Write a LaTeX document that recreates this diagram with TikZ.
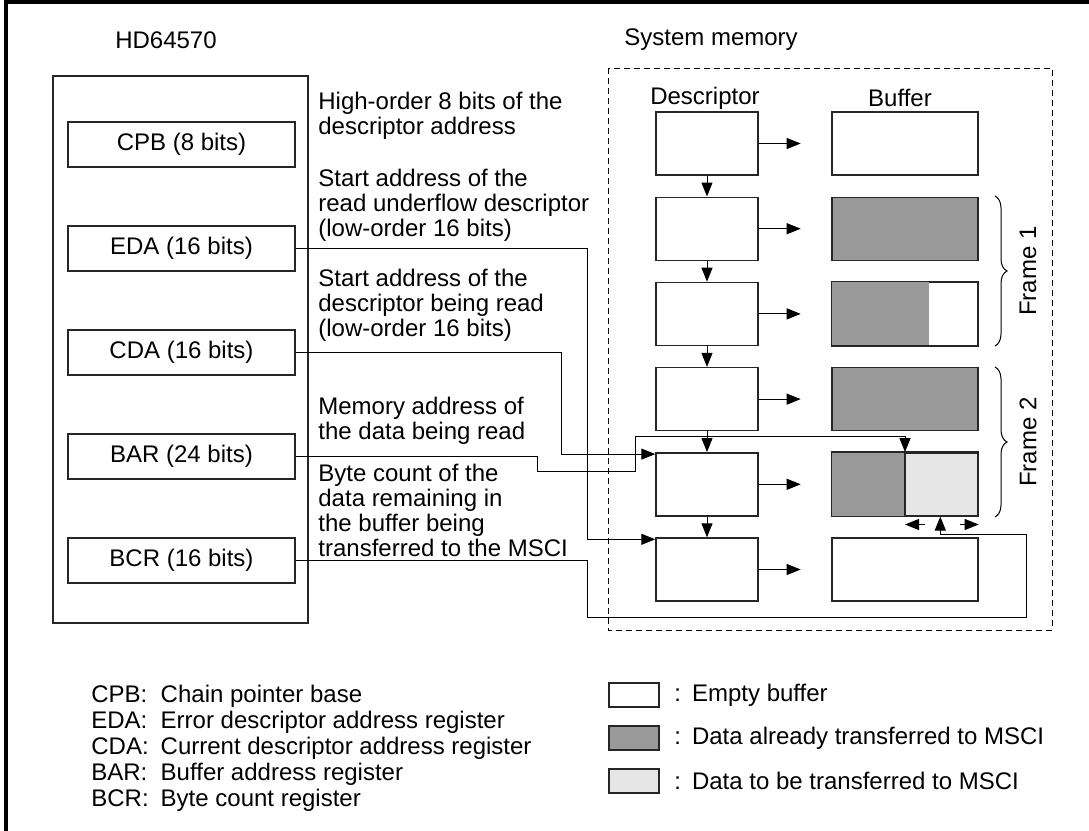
\documentclass[tikz,border=0pt]{standalone}
\usepackage{fontspec}
\setmainfont{Liberation Sans}
\usetikzlibrary{arrows.meta, calc, decorations.pathreplacing}
\definecolor{dark}{HTML}{999999}
\definecolor{light}{HTML}{E6E6E6}

\begin{document}
\begin{tikzpicture}[x=0.5pt, y=-0.5pt, font=\fontsize{12pt}{12.5pt}\selectfont,
    box/.style={draw=black!85, line width=0.7pt, inner sep=0pt},
    reg/.style={box, minimum width=113.5pt, minimum height=22.5pt},
    desc/.style={box, minimum width=51pt, minimum height=31.5pt},
    buf/.style={box, minimum width=73pt, minimum height=31.5pt},
    wire/.style={line width=0.5pt},
    arr/.style={-{Triangle[length=7pt,width=5.5pt]}},
    txt/.style={inner sep=0pt, anchor=west, align=left}]
    \useasboundingbox (0,0) rectangle (1089,831);
    \draw[line width=2pt] (6,831) -- (6,2) -- (1089,2);

    % HD64570 side
    \node (hdt) at (166,40) {HD64570};
    \draw[box] (53,76) rectangle (308,623);
    \node[reg] (cpb) at (181.5,144.5) {CPB (8 bits)};
    \node[reg] (eda) at (181.5,248.5) {EDA (16 bits)};
    \node[reg] (cda) at (181.5,352.5) {CDA (16 bits)};
    \node[reg] (bar) at (181.5,456.5) {BAR (24 bits)};
    \node[reg] (bcr) at (181.5,560.5) {BCR (16 bits)};

    \node[txt] (t1) at (318,115.5) {High-order 8 bits of the\\descriptor address};
    \node[txt] (t2) at (318,205) {Start address of the\\read underflow descriptor\\(low-order 16 bits)};
    \node[txt] (t3) at (318,305) {Start address of the\\descriptor being read\\(low-order 16 bits)};
    \node[txt] (t4) at (318,420.5) {Memory address of\\the data being read};
    \node[txt] (t5) at (318,510.5) {Byte count of the\\data remaining in\\the buffer being\\transferred to the MSCI};

    % System memory side
    \node[txt] (smt) at (624,40) {System memory};
    \draw[wire, dash pattern=on 3pt off 2pt] (608,68) rectangle (1052,630);
    \node (dt) at (705,98) {Descriptor};
    \node (bt) at (900,98) {Buffer};
    \foreach \i/\f in {1/white,2/dark,3/white,4/dark,5/light,6/white} {
        \node[desc] (desc\i) at (707,{143.5+85.2*(\i-1)}) {};
        \node[buf, fill=\f] (buf\i) at (905,{143.5+85.2*(\i-1)}) {};
        \coordinate (pt\i) at ($(desc\i.east)+(42,0)$);
        \draw[wire,arr] (desc\i) -- (pt\i);
    }
    \foreach \i/\j in {1/2,2/3,3/4,4/5,5/6}
        \draw[wire,arr] (desc\i) -- (desc\j);

    % partly filled buffers
    \fill[dark] (buf3.north west) rectangle ($(buf3.south west)+(98,0)$);
    \draw[box] (buf3.north west) rectangle (buf3.south east);
    \fill[dark] (buf5.north west) rectangle (buf5.south);
    \draw[box] (buf5.north west) rectangle (buf5.south east);
    \draw[box] (buf5.north) -- (buf5.south);

    % frames
    \draw[wire, decorate, decoration={brace, amplitude=6pt}] (995,196) -- (995,346);
    \draw[wire, decorate, decoration={brace, amplitude=6pt}] (995,367) -- (995,517);
    \node[rotate=90] (f1) at (1028,271) {Frame 1};
    \node[rotate=90] (f2) at (1028,442) {Frame 2};

    % registers to memory
    \draw[wire,arr] (eda.east) -- ++(292,0) |- ([yshift=-1pt]desc6.north west);
    \draw[wire,arr] (cda.east) -- ++(266,0) |- ([yshift=-1pt]desc5.north west);
    \draw[wire,arr] (bar.east) -- ++(242,0) -- ++(0,15) -- ++(98,0) |- ([yshift=8pt]buf5.north) -- (buf5.north);
    \coordinate (cnt) at ($(buf5.south west)+(109,0)$);
    \draw[wire,arr] (bcr.east) -- ++(292,0) -- ++(0,56.5) -- ++(439,0) -- ++(0,-83) -| (cnt);
    \coordinate (la) at ($(buf5.south)+(0,8)$);
    \coordinate (ra) at ($(buf5.south east)+(0,8)$);
    \draw[wire,arr] ($(la)+(20,0)$) -- (la);
    \draw[wire,arr] ($(ra)+(-19,0)$) -- (ra);

    % legends
    \node[txt, font=\fontsize{12pt}{13pt}\selectfont] (abbr) at (91,749) {%
        \begin{tabular}{@{}l@{\hspace{6pt}}l@{}}
        CPB: & Chain pointer base\\
        EDA: & Error descriptor address register\\
        CDA: & Current descriptor address register\\
        BAR: & Buffer address register\\
        BCR: & Byte count register
        \end{tabular}};
    \foreach \i/\f/\t in {1/white/Empty buffer,2/dark/Data already transferred to MSCI,3/light/Data to be transferred to MSCI} {
        \node[box, fill=\f, minimum width=25pt, minimum height=12pt] (leg\i) at (634,{695+43*(\i-1)}) {};
        \node[txt] (legt\i) at (674,{695+43*(\i-1)}) {:\hspace{5.5pt}\t};
    }
\end{tikzpicture}
\end{document}
